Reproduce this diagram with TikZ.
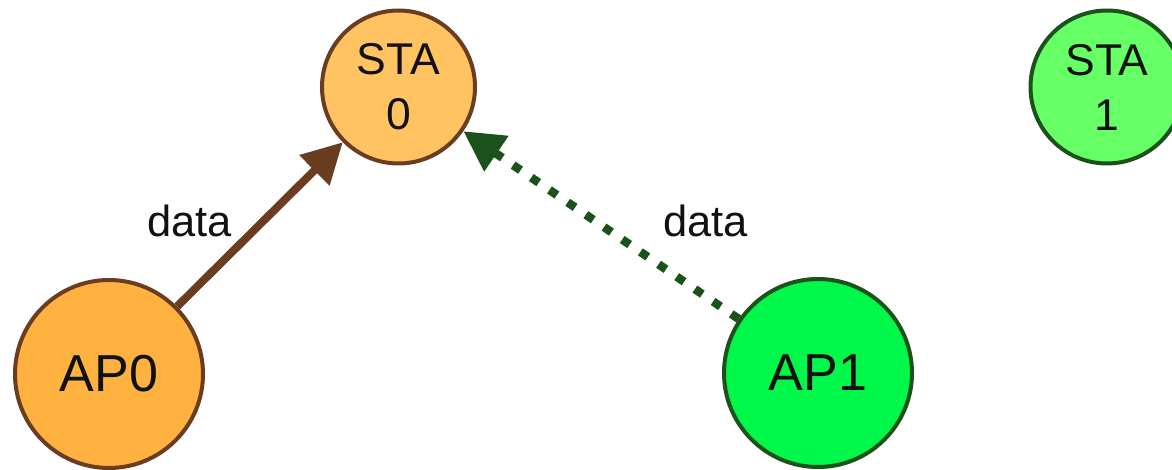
\documentclass[tikz,border=0pt]{standalone}
\usepackage{fontspec}
\setmainfont{Liberation Sans}
\usetikzlibrary{arrows.meta}

\definecolor{brownline}{HTML}{6B3D20}
\definecolor{greenline}{HTML}{1B521B}
\definecolor{staorange}{HTML}{FFC362}
\definecolor{aporange}{HTML}{FFB240}
\definecolor{stagreen}{HTML}{66FF66}
\definecolor{apgreen}{HTML}{00F84A}
\definecolor{labeltext}{HTML}{111111}

\tikzset{
  x=1pt, y=-1pt,
  station/.style={circle, line width=4pt, minimum size=153pt, inner sep=0pt,
    align=center, text=labeltext, font=\fontsize{44.5}{55}\selectfont},
  accesspoint/.style={circle, line width=4pt, minimum size=188pt, inner sep=0pt,
    text=labeltext, font=\fontsize{52}{62}\selectfont},
  orangenode/.style={draw=brownline},
  greennode/.style={draw=greenline},
  datalabel/.style={anchor=base, inner sep=0pt, text=labeltext, font=\fontsize{43.5}{52}\selectfont},
  bigtip/.style={-{Triangle[length=40pt, width=41pt]}},
  solidlink/.style={bigtip, draw=brownline, line width=8pt},
  dottedlink/.style={bigtip, draw=greenline, line width=8.5pt, line cap=butt,
    dash pattern=on 9pt off 13pt}
}

\begin{document}
\begin{tikzpicture}
  \useasboundingbox (0,0) rectangle (1172,470);
  \clip (0,0) rectangle (1172,470);

  % stations and access points
  \node[station, orangenode, fill=staorange] (sta0) at (398.5,87) {STA\\0};
  \node[station, greennode, fill=stagreen] (sta1) at (1107,87) {STA\\1};
  \node[accesspoint, orangenode, fill=aporange] (ap0) at (109,374) {AP0};
  \node[accesspoint, greennode, fill=apgreen] (ap1) at (818,373) {AP1};

  % data links towards STA 0
  \draw[solidlink] (ap0) -- (sta0);
  \draw[dottedlink] (ap1) -- (sta0);

  % link labels
  \node[datalabel] (lbl0) at (189.5,237) {data};
  \node[datalabel] (lbl1) at (705.5,237) {data};
\end{tikzpicture}
\end{document}
